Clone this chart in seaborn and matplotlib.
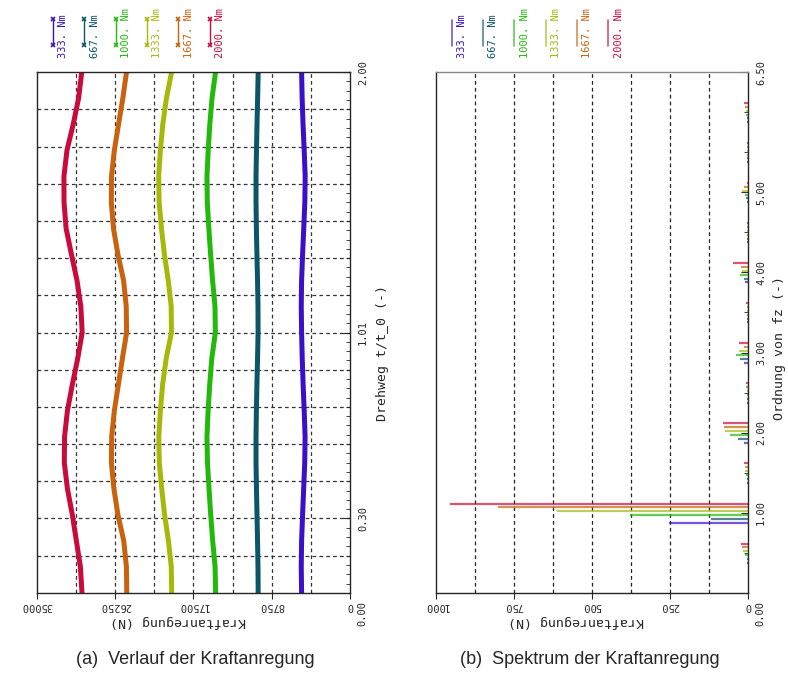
import numpy as np
import pandas as pd
import seaborn as sns
import matplotlib.pyplot as plt
from matplotlib.lines import Line2D
from matplotlib.ticker import MultipleLocator

# Lastfaelle und Farben
loads = ['333. Nm', '667. Nm', '1000. Nm', '1333. Nm', '1667. Nm', '2000. Nm']
colors = ['#3a10c8', '#0b5566', '#22b80c', '#a8b80a', '#c8620e', '#c80a3c']

# (a) Verlauf der Kraftanregung ueber dem Drehweg
drehweg = [0.0, 0.1, 0.2, 0.3, 0.4, 0.5, 0.6, 0.7, 0.8, 0.9, 1.0,
           1.1, 1.2, 1.3, 1.4, 1.5, 1.6, 1.7, 1.8, 1.9, 2.0]
kraft_333 = [5400, 5440, 5400, 5290, 5170, 5050, 5010, 5110, 5230, 5330, 5400,
             5440, 5400, 5290, 5160, 5040, 5000, 5110, 5240, 5340, 5400]
kraft_667 = [10260, 10280, 10330, 10390, 10450, 10500, 10500, 10460, 10400, 10330, 10270,
             10280, 10330, 10400, 10460, 10500, 10500, 10450, 10390, 10320, 10260]
kraft_1000 = [15020, 15080, 15350, 15570, 15760, 15930, 15990, 15860, 15680, 15450, 15050,
              15090, 15360, 15580, 15780, 15950, 15990, 15850, 15670, 15420, 15030]
kraft_1333 = [19940, 19980, 20300, 20730, 21050, 21320, 21380, 21200, 20950, 20550, 19960,
              19990, 20320, 20750, 21080, 21340, 21390, 21200, 20930, 20520, 19950]
kraft_1667 = [24960, 25000, 25300, 25950, 26400, 26680, 26650, 26350, 25900, 25450, 24980,
              25020, 25320, 25950, 26450, 26690, 26670, 26350, 25880, 25400, 24990]
kraft_2000 = [29970, 30150, 30600, 31050, 31600, 31950, 31920, 31600, 31050, 30450, 29950,
              30100, 30530, 31150, 31750, 31980, 31990, 31650, 30950, 30350, 30000]

# (b) Spektrum der Kraftanregung
ordnung = [0.5, 1.0, 1.5, 2.0, 2.5, 3.0, 3.5, 4.0, 4.5, 5.0, 5.5, 6.0]
amp_333 = [3, 251, 2, 12, 2, 13, 2, 9, 1, 4, 1, 1]
amp_667 = [4, 118, 2, 33, 2, 24, 2, 12, 1, 6, 1, 3]
amp_1000 = [10, 379, 5, 57, 3, 39, 2, 26, 2, 8, 1, 5]
amp_1333 = [14, 613, 8, 74, 3, 27, 3, 19, 2, 19, 2, 6]
amp_1667 = [19, 801, 10, 76, 5, 11, 3, 22, 2, 12, 2, 9]
amp_2000 = [22, 955, 12, 79, 7, 27, 5, 47, 2, 3, 2, 12]

kraft_series = [kraft_333, kraft_667, kraft_1000, kraft_1333, kraft_1667, kraft_2000]
amp_series = [amp_333, amp_667, amp_1000, amp_1333, amp_1667, amp_2000]

# Long-Format fuer seaborn
df = pd.concat([pd.DataFrame({'d': drehweg, 'F': k, 'Last': l})
                for k, l in zip(kraft_series, loads)], ignore_index=True)

sns.set_style("white")
mono = 'DejaVu Sans Mono'
plt.rcParams['font.family'] = [mono]

fig = plt.figure(figsize=(7.88, 6.87), dpi=100)
ax1 = fig.add_axes([0.047, 0.137, 0.397, 0.758])
ax2 = fig.add_axes([0.553, 0.137, 0.396, 0.758])

#################
# Panel (a)     #
#################
for g in np.arange(1, 14) * 2 / 14:
    ax1.axhline(g, color='#333333', ls=(0, (3, 2.5)), lw=0.9, zorder=0)
for g in np.arange(1, 8) * 4375:
    ax1.axvline(g, color='#333333', ls=(0, (3, 2.5)), lw=0.9, zorder=0)

sns.lineplot(data=df, x='F', y='d', hue='Last', palette=dict(zip(loads, colors)),
             orient='y', sort=False, legend=False, linewidth=3.6, ax=ax1)

ax1.set_xlim(35000, 0)
ax1.set_ylim(0, 2.0)
ax1.set_xticks([35000, 26250, 17500, 8750, 0])
ax1.set_xticklabels(['35000', '26250', '17500', '8750', '0'])
ax1.set_yticks([2 / 7, 1.0, 2.0])
ax1.set_yticklabels(['0.30', '1.01', '2.00'])
ax1.yaxis.set_minor_locator(MultipleLocator(2 / 56))
ax1.yaxis.tick_right()
ax1.yaxis.set_label_position('right')
ax1.set_xlabel('Kraftanregung (N)', rotation=180, fontsize=9.5)
ax1.xaxis.set_label_coords(0.45, -0.043)
ax1.set_ylabel('Drehweg t/t_0 (-)', rotation=90, fontsize=9.5)
ax1.yaxis.set_label_coords(1.085, 0.46)
ax1.text(1.04, -0.04, '0.00', transform=ax1.transAxes, rotation=90,
         ha='center', va='center', fontsize=7.5)

#################
# Panel (b)     #
#################
for g in np.arange(1, 8) * 125:
    ax2.axvline(g, color='#222222', ls=(0, (3, 2.5)), lw=0.9, zorder=0)

versatz = np.linspace(-0.125, 0.115, 6)
for amp, c, dv in zip(amp_series, colors, versatz):
    ax2.hlines(np.array(ordnung) + dv, 0, amp, color=c, lw=1.6, alpha=0.7)

ax2.set_xlim(1000, 0)
ax2.set_ylim(0, 6.5)
ax2.set_xticks([1000, 750, 500, 250, 0])
ax2.set_xticklabels(['1000', '750', '500', '250', '0'])
ax2.set_yticks([1, 2, 3, 4, 5, 6.5])
ax2.set_yticklabels(['1.00', '2.00', '3.00', '4.00', '5.00', '6.50'])
ax2.yaxis.set_minor_locator(MultipleLocator(0.5))
ax2.yaxis.tick_right()
ax2.yaxis.set_label_position('right')
ax2.set_xlabel('Kraftanregung (N)', rotation=180, fontsize=9.5)
ax2.xaxis.set_label_coords(0.45, -0.043)
ax2.set_ylabel('Ordnung von fz (-)', rotation=90, fontsize=9.5)
ax2.yaxis.set_label_coords(1.08, 0.47)
ax2.text(1.04, -0.04, '0.00', transform=ax2.transAxes, rotation=90,
         ha='center', va='center', fontsize=7.5)
ax2.spines['top'].set_color('#888888')

for ax in (ax1, ax2):
    for s in ax.spines.values():
        s.set_linewidth(1.0)
    ax.tick_params(axis='x', labelrotation=180, labelsize=7.5, direction='out',
                   length=4, width=0.8, pad=2, bottom=True)
    ax.tick_params(axis='y', which='major', labelrotation=90, labelsize=7.5,
                   direction='in', length=5, width=0.8, pad=6, right=True, left=False)
    ax.tick_params(axis='y', which='minor', direction='in', length=3,
                   width=0.6, right=True, left=False)
    for lbl in ax.get_yticklabels():
        lbl.set_verticalalignment('center')

#################
# Legenden      #
#################
W, H = 788, 687
for i, (l, c) in enumerate(zip(loads, colors)):
    xa = 52.7 + i * 31.4
    fig.add_artist(Line2D([xa / W, xa / W], [1 - 19 / H, 1 - 45 / H], color=c, lw=1.0,
                          marker='x', markersize=3.5, markeredgewidth=1.2))
    fig.text((xa + 10.5) / W, 1 - 58 / H, l, color=c, rotation=90, ha='center',
             va='bottom', fontsize=7.5)
    xb = 451.7 + i * 31.3
    fig.add_artist(Line2D([xb / W, xb / W], [1 - 20 / H, 1 - 46 / H], color=c, lw=1.2,
                          alpha=0.7))
    fig.text((xb + 10.5) / W, 1 - 58 / H, l, color=c, rotation=90, ha='center',
             va='bottom', fontsize=7.5)

# Unterschriften
fig.text(195 / W, 1 - 660 / H, '(a)  Verlauf der Kraftanregung', ha='center', va='center',
         fontsize=13, family=['Liberation Sans', 'DejaVu Sans'])
fig.text(590 / W, 1 - 660 / H, '(b)  Spektrum der Kraftanregung', ha='center', va='center',
         fontsize=13, family=['Liberation Sans', 'DejaVu Sans'])

fig.savefig('out.png', dpi=100)
